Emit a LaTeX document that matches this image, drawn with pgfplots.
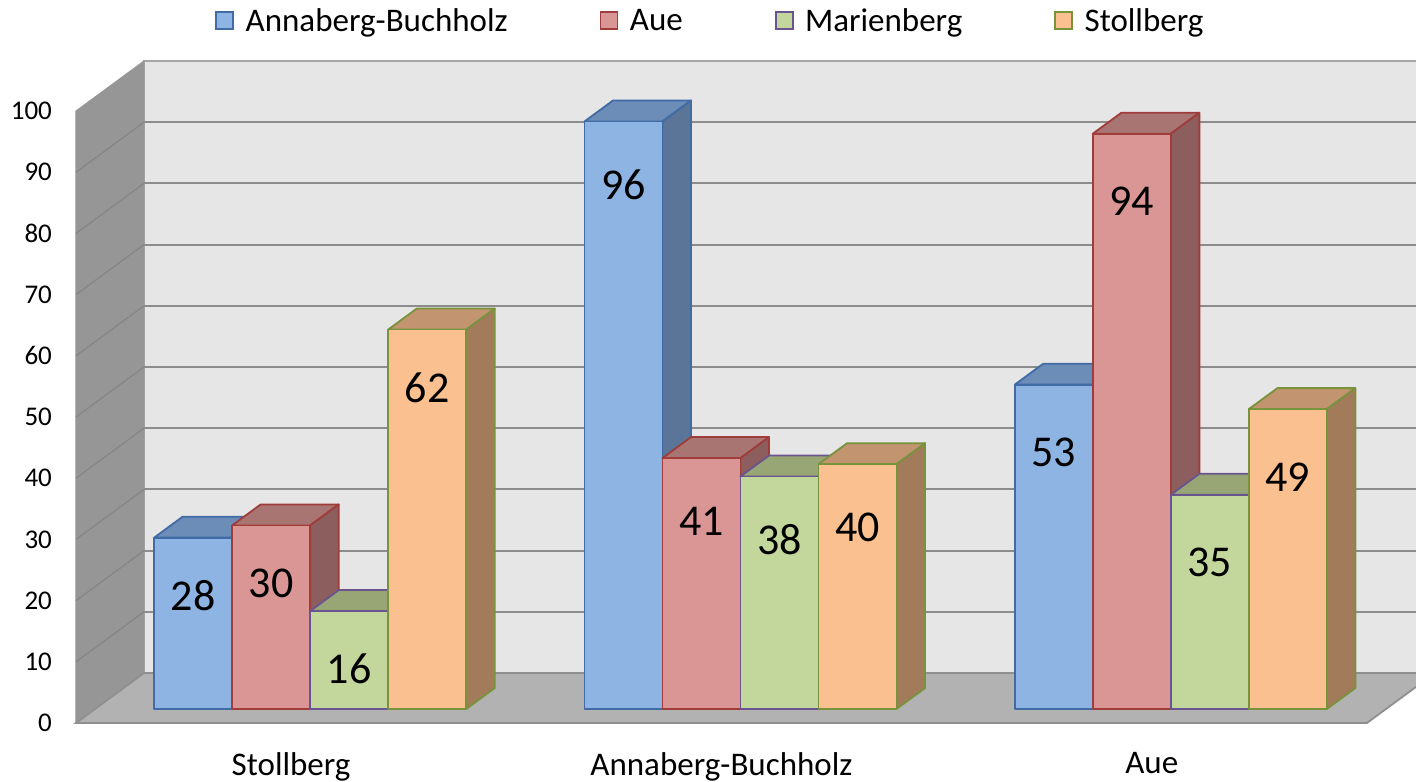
\documentclass[border=0pt]{standalone}
\usepackage{pgfplots}
\pgfplotsset{compat=1.18}
\usepackage{pgfplotstable}
\usepackage{fontspec}
\setmainfont{Carlito}

\definecolor{F0}{HTML}{8EB4E3}
\definecolor{T0}{HTML}{6C8DB7}
\definecolor{S0}{HTML}{5A7597}
\definecolor{B0}{HTML}{416BA4}
\definecolor{F1}{HTML}{D99694}
\definecolor{T1}{HTML}{A97573}
\definecolor{S1}{HTML}{8C5E5D}
\definecolor{B1}{HTML}{A03C3A}
\definecolor{F2}{HTML}{C3D69B}
\definecolor{T2}{HTML}{98A676}
\definecolor{S2}{HTML}{7E8A62}
\definecolor{B2}{HTML}{6A5490}
\definecolor{F3}{HTML}{FAC090}
\definecolor{T3}{HTML}{C2946F}
\definecolor{S3}{HTML}{A27B5B}
\definecolor{B3}{HTML}{77933C}
\definecolor{wallc}{HTML}{E6E6E6}
\definecolor{wallb}{HTML}{A6A6A6}
\definecolor{lwallc}{HTML}{969696}
\definecolor{floorc}{HTML}{B2B2B2}
\definecolor{floorb}{HTML}{8F8F8F}
\definecolor{gridc}{HTML}{8C8C8C}
\definecolor{lgridc}{HTML}{858585}

\pgfplotstableread{
grp Annaberg Aue Marienberg Stollberg
0 28 30 16 62
1 96 41 38 40
2 53 94 35 49
}\datatable

\begin{document}
\begin{tikzpicture}
\begin{axis}[
  x=215.15pt, y=3.06pt,
  xmin=-0.5, xmax=2.6141, ymin=0, ymax=100,
  clip=false,
  axis line style={draw=none},
  tick style={draw=none},
  xtick={0,1,2},
  xticklabels={Stollberg,Annaberg-Buchholz,Aue},
  ytick={0,10,...,100},
  /pgf/number format/assume math mode=true,
  yticklabel style={font=\fontsize{13.5}{16}\selectfont, xshift=-8.5pt},
  xticklabel style={font=\fontsize{16.5}{20}\selectfont, yshift=-11pt},
  legend columns=4,
  legend style={draw=none, fill=none, at={(0.4742,1.147)}, anchor=center,
    font=\fontsize{16.5}{20}\selectfont,
    /tikz/every even column/.append style={column sep=44pt}},
]
\addlegendimage{legend image code/.code={\draw[fill=F0,draw=B0,line width=0.9pt] (0pt,-3.8pt) rectangle (8.5pt,4.7pt);\path (12.5pt,0pt);}}
\addlegendentry{Annaberg-Buchholz}
\addlegendimage{legend image code/.code={\draw[fill=F1,draw=B1,line width=0.9pt] (0pt,-3.8pt) rectangle (8.5pt,4.7pt);\path (12.5pt,0pt);}}
\addlegendentry{Aue}
\addlegendimage{legend image code/.code={\draw[fill=F2,draw=B2,line width=0.9pt] (0pt,-3.8pt) rectangle (8.5pt,4.7pt);\path (12.5pt,0pt);}}
\addlegendentry{Marienberg}
\addlegendimage{legend image code/.code={\draw[fill=F3,draw=B3,line width=0.9pt] (0pt,-3.8pt) rectangle (8.5pt,4.7pt);\path (12.5pt,0pt);}}
\addlegendentry{Stollberg}

% walls and floor
\addplot[forget plot, fill=wallc, draw=wallb, line width=0.8pt] coordinates {(-0.342,8.17) (2.658,8.17) (2.658,108.17) (-0.342,108.17)} -- cycle;
\addplot[forget plot, fill=lwallc, draw=lwallc, line width=0.5pt] coordinates {(-0.5,0) (-0.342,8.17) (-0.342,108.17) (-0.5,100)} -- cycle;
\pgfplotsforeachungrouped \k in {10,20,30,40,50,60,70,80,90}{%
  \pgfmathsetmacro\kb{\k+8.17}%
  \edef\temp{\noexpand\addplot[forget plot, draw=gridc, line width=1pt] coordinates {(-0.342,\kb) (2.658,\kb)};
    \noexpand\addplot[forget plot, draw=lgridc, line width=0.6pt] coordinates {(-0.5,\k) (-0.342,\kb)};}%
  \temp
}
\addplot[forget plot, fill=floorc, draw=floorb, line width=0.9pt] coordinates {(-0.5,0) (2.5,0) (2.658,8.17) (-0.342,8.17)} -- cycle;

% bars
\pgfplotsforeachungrouped \g in {0,1,2}{%
 \pgfplotsforeachungrouped \s in {0,1,2,3}{%
   \edef\colname{\ifcase\s Annaberg\or Aue\or Marienberg\or Stollberg\fi}%
   \pgfplotstablegetelem{\g}{\colname}\of\datatable
   \let\v\pgfplotsretval
   \pgfmathsetmacro\xL{\g-0.3626+\s*0.1813+0.0442}%
   \pgfmathsetmacro\xR{\xL+0.1813}%
   \pgfmathsetmacro\xRR{\xR+0.0664}%
   \pgfmathsetmacro\xLL{\xL+0.0664}%
   \pgfmathsetmacro\yb{2.29}%
   \pgfmathsetmacro\ybb{2.29+3.43}%
   \pgfmathsetmacro\yt{\v+2.29}%
   \pgfmathsetmacro\ytt{\yt+3.43}%
   \pgfmathsetmacro\lx{\xL+0.09065}%
   \pgfmathsetmacro\ly{\yt-(58+5*\g)/6.12}%
   \edef\temp{%
     \noexpand\addplot[forget plot, fill=T\s, draw=B\s, line width=0.9pt, line join=round] coordinates {(\xL,\yt) (\xR,\yt) (\xRR,\ytt) (\xLL,\ytt)} -- cycle;
     \noexpand\addplot[forget plot, fill=S\s, draw=B\s, line width=0.9pt, line join=round] coordinates {(\xR,\yb) (\xRR,\ybb) (\xRR,\ytt) (\xR,\yt)} -- cycle;
     \noexpand\addplot[forget plot, fill=F\s, draw=B\s, line width=0.9pt, line join=round] coordinates {(\xL,\yb) (\xR,\yb) (\xR,\yt) (\xL,\yt)} -- cycle;
     \noexpand\node[font=\noexpand\fontsize{22}{26}\noexpand\selectfont] at (axis cs:\lx,\ly) {\v};
   }%
   \temp
 }%
}
\coordinate (bbA) at (axis cs:-0.6766,-9.477);
\coordinate (bbB) at (axis cs:2.6141,118.14);
\end{axis}
\pgfresetboundingbox
\path[use as bounding box] (bbA) rectangle (bbB);
\end{tikzpicture}
\end{document}
